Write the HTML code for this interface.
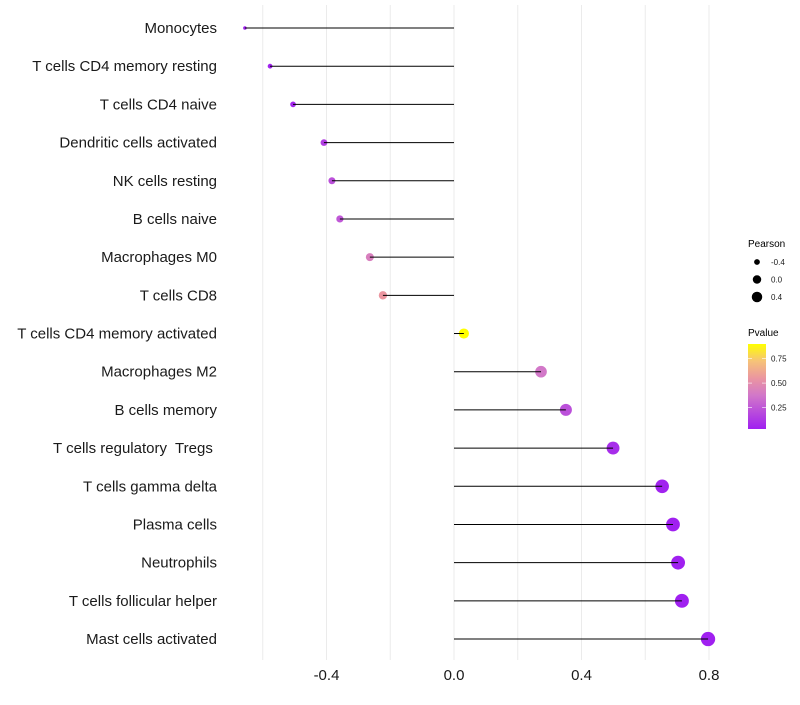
<!DOCTYPE html>
<html><head><meta charset="utf-8"><style>
body{margin:0;background:#fff;font-family:"Liberation Sans",sans-serif;}
text{white-space:pre;}
</style></head><body>
<svg id="c" width="800" height="700" xmlns="http://www.w3.org/2000/svg"></svg>
<script>
const categories=["Monocytes","T cells CD4 memory resting","T cells CD4 naive","Dendritic cells activated","NK cells resting","B cells naive","Macrophages M0","T cells CD8","T cells CD4 memory activated","Macrophages M2","B cells memory","T cells regulatory  Tregs ","T cells gamma delta","Plasma cells","Neutrophils","T cells follicular helper","Mast cells activated"];
const pearson=[-0.656,-0.577,-0.505,-0.408,-0.383,-0.358,-0.264,-0.223,0.031,0.273,0.351,0.499,0.653,0.687,0.703,0.715,0.797];
const pvalue=[0.03,0.04,0.06,0.15,0.22,0.25,0.42,0.55,0.9,0.38,0.22,0.08,0.04,0.03,0.03,0.03,0.03];
const xTicks=[-0.4,0,0.4,0.8];
const xTickLabels=["-0.4","0.0","0.4","0.8"];
const xMinor=[-0.6,-0.2,0.2,0.6];
const sizeLegend=[-0.4,0,0.4];
const pTicks=[0.25,0.5,0.75];

const NS="http://www.w3.org/2000/svg";
const svg=document.getElementById('c');
function mk(t,a,p){const e=document.createElementNS(NS,t);for(const k in a)e.setAttribute(k,a[k]);(p||svg).appendChild(e);return e;}
const x=v=>454+v*318.75;
const y=i=>28+i*38.19;
const r=v=>Math.sqrt(Math.max(1,3+(v+0.66)*33));
const pMin=0.03,pMax=0.9;
const stops=[[0,[160,32,240]],[0.4,[210,120,200]],[0.6,[235,150,160]],[0.8,[246,195,120]],[1,[255,255,0]]];
function col(p){let t=(p-pMin)/(pMax-pMin);t=Math.max(0,Math.min(1,t));
 for(let i=1;i<stops.length;i++){if(t<=stops[i][0]){const a=stops[i-1],b=stops[i];const f=(t-a[0])/(b[0]-a[0]);
 return 'rgb('+a[1].map((c,j)=>Math.round(c+(b[1][j]-c)*f)).join(',')+')';}}return 'rgb(255,255,0)';}

xMinor.concat(xTicks).forEach(v=>{const l=mk('line',{x1:x(v),x2:x(v),y1:5,y2:660,stroke:'#ebebeb','stroke-width':1});

});

categories.forEach((c,i)=>{
 const t=mk('text',{x:217,y:y(i)+5,'text-anchor':'end','font-size':15,fill:'#1a1a1a'});t.textContent=c;
 
 
 const pt=mk('circle',{cx:x(pearson[i]),cy:y(i),r:r(pearson[i]),fill:col(pvalue[i])});
 
 
 const ln=mk('line',{x1:x(0),x2:x(pearson[i]),y1:y(i),y2:y(i),stroke:'#000','stroke-width':1});
 
 
});
xTicks.forEach((v,i)=>{const t=mk('text',{x:x(v),y:680,'text-anchor':'middle','font-size':15,fill:'#1a1a1a'});t.textContent=xTickLabels[i];
 
 });

let t=mk('text',{x:748,y:247,'font-size':10,fill:'#000'});t.textContent='Pearson';


sizeLegend.forEach((v,i)=>{const cy=262+i*17.5;
 const c=mk('circle',{cx:757,cy:cy,r:r(v)*0.85,fill:'#000'});
 
 
 const l=mk('text',{x:771,y:cy+3,'font-size':8,fill:'#1a1a1a'});l.textContent=v===0?'0.0':String(v);
 
 });
t=mk('text',{x:748,y:336,'font-size':10,fill:'#000'});t.textContent='Pvalue';


const defs=mk('defs',{});const g=mk('linearGradient',{id:'pg',x1:0,y1:1,x2:0,y2:0},defs);
stops.forEach(s=>mk('stop',{offset:s[0],'stop-color':'rgb('+s[1].join(',')+')'},g));
const bar=mk('rect',{x:748,y:344,width:18,height:85,fill:'url(#pg)'});


const py=p=>429-(p-pMin)/(pMax-pMin)*85;
pTicks.forEach(p=>{mk('line',{x1:748,x2:752,y1:py(p),y2:py(p),stroke:'#fff','stroke-width':0.6});mk('line',{x1:762,x2:766,y1:py(p),y2:py(p),stroke:'#fff','stroke-width':0.6});
 const l=mk('text',{x:771,y:py(p)+3,'font-size':8,fill:'#1a1a1a'});l.textContent=p.toFixed(2);
 
 });
</script>
</body></html>
